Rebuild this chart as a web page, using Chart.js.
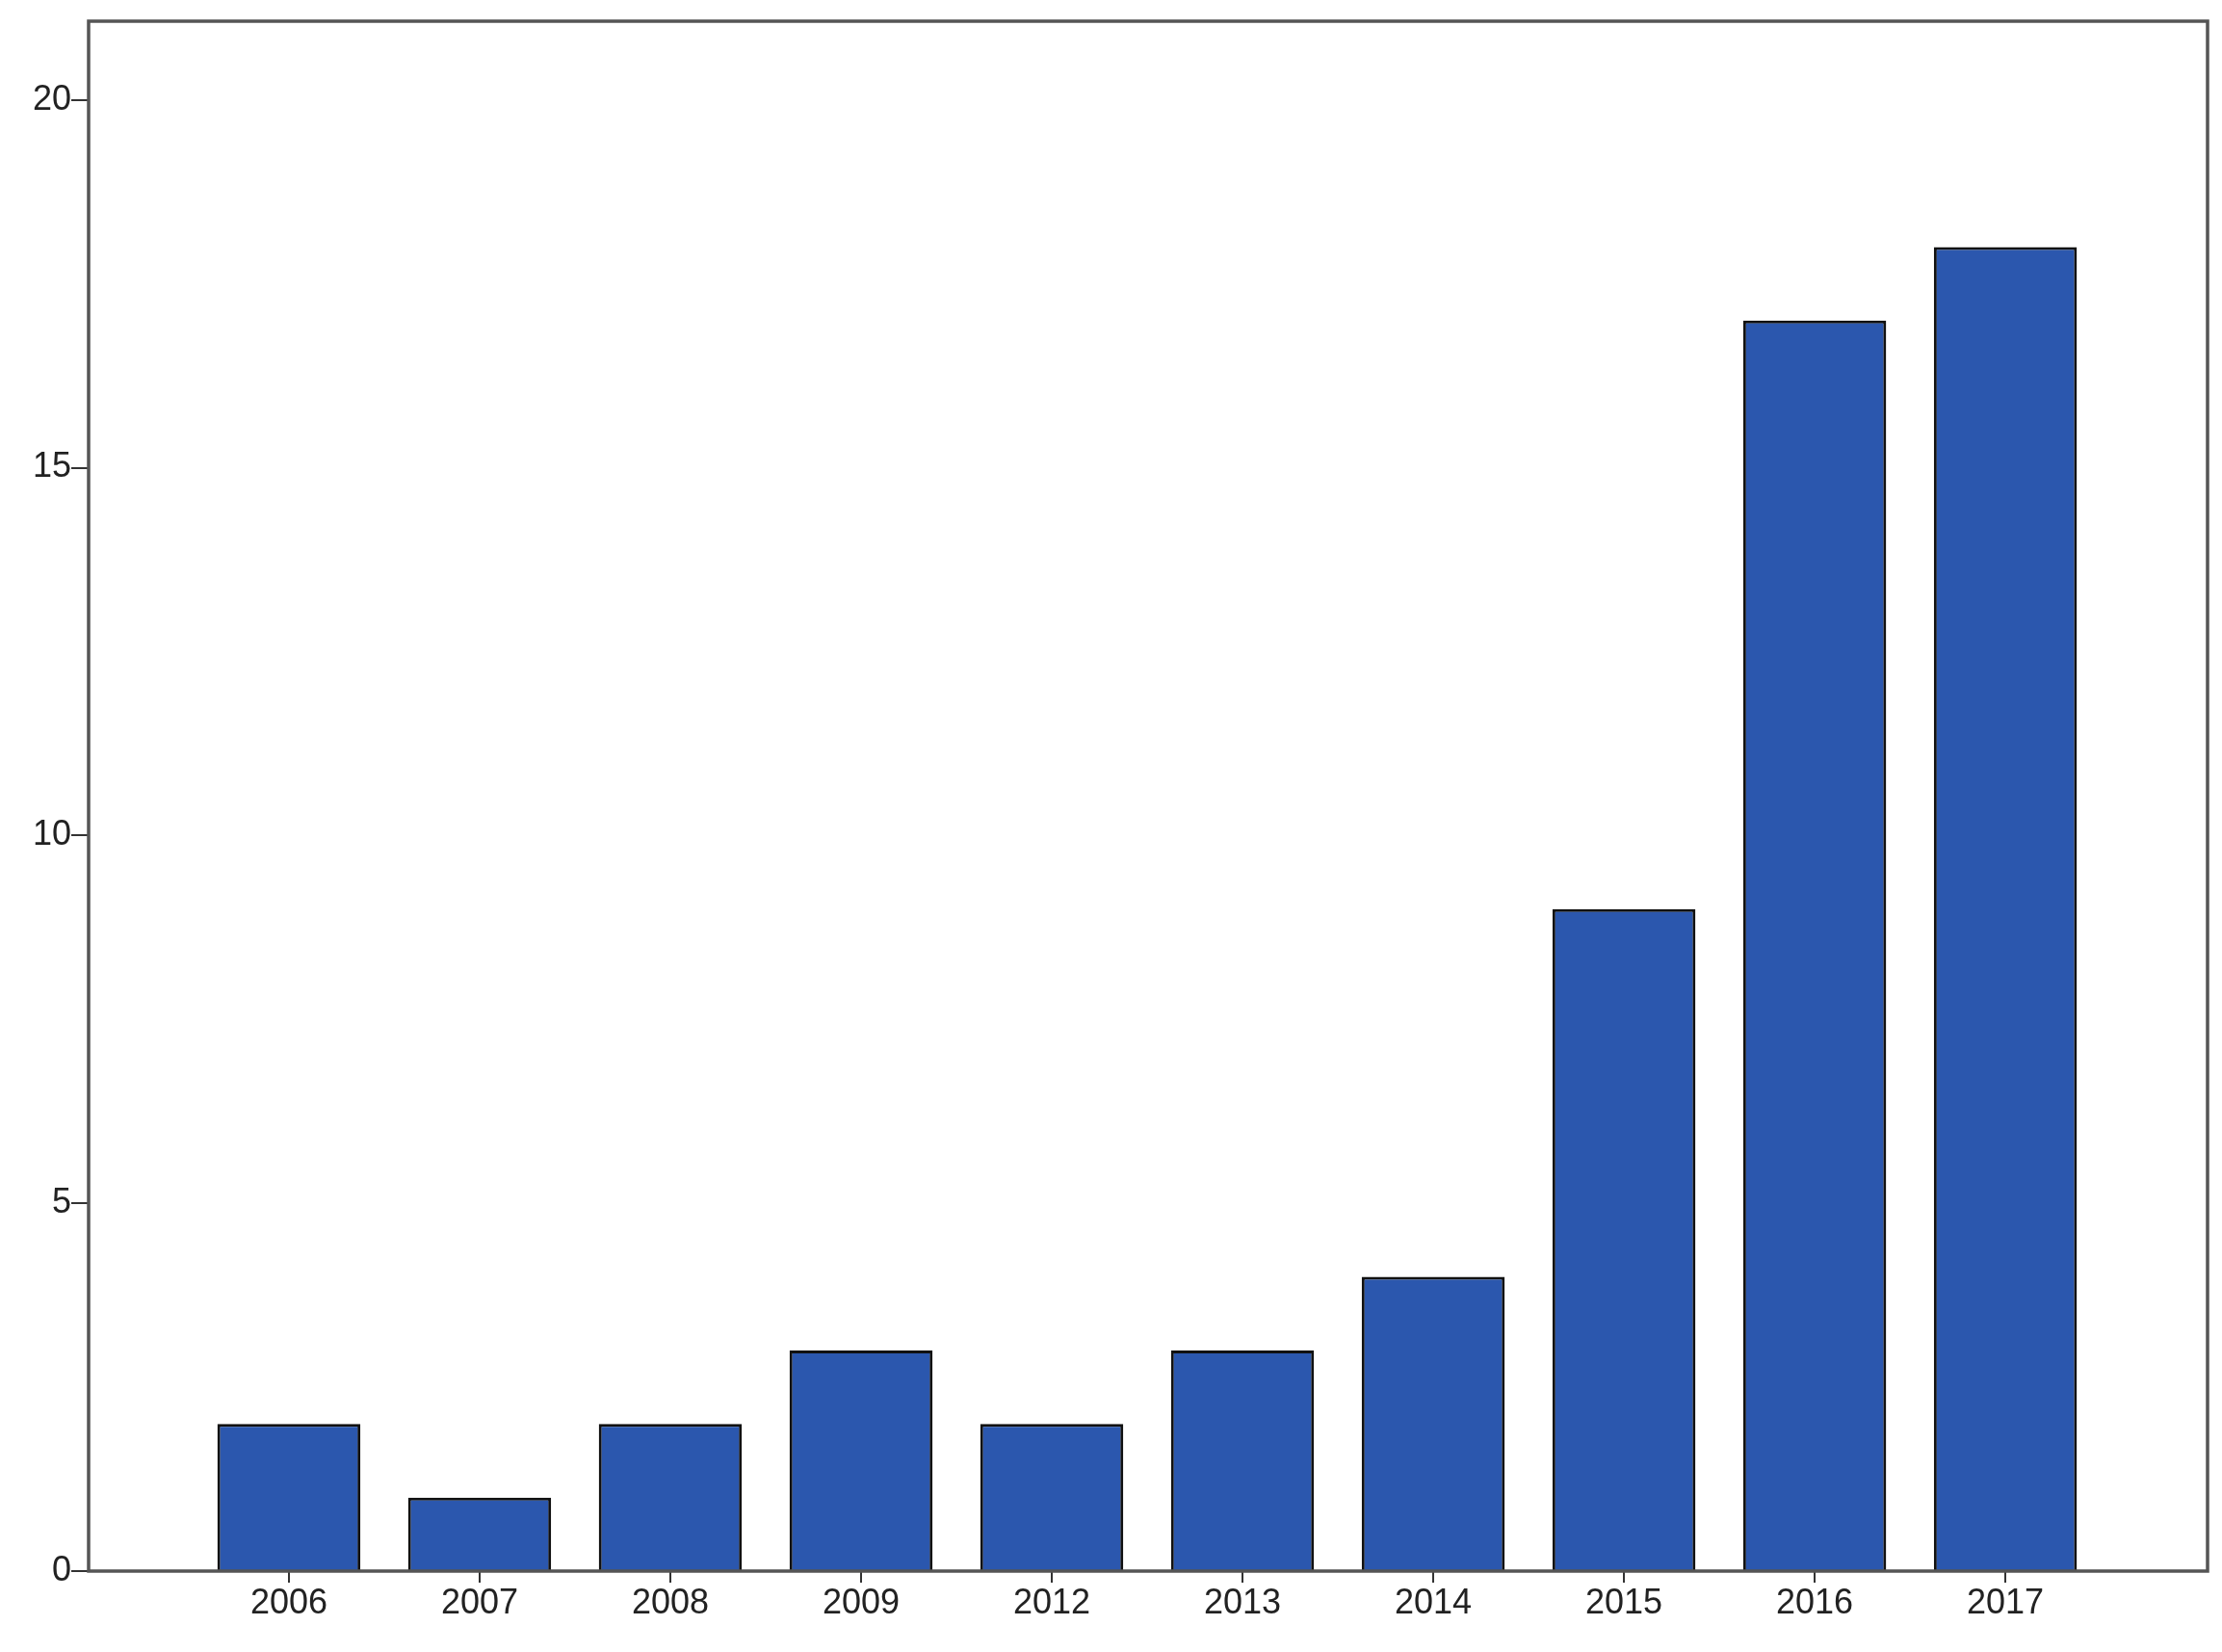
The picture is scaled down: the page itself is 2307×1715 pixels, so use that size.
<!DOCTYPE html>
<html>
<head>
<meta charset="utf-8">
<script src="https://cdn.jsdelivr.net/npm/chart.js@4"></script>
<style>
  html, body { margin: 0; padding: 0; background: #fff; }
  #wrap { width: 2307px; height: 1715px; }
</style>
</head>
<body>
<div id="wrap"><canvas id="bars"></canvas></div>
<script>
var years = ['2006', '2007', '2008', '2009', '2012', '2013', '2014', '2015', '2016', '2017'];
var counts = [2, 1, 2, 3, 2, 3, 4, 9, 17, 18];
var yTicks = [0, 5, 10, 15, 20];

// frame around the plot area
var frame = {
  id: 'frame',
  afterDraw: function(chart) {
    var a = chart.chartArea, c = chart.ctx;
    c.save();
    c.strokeStyle = '#555';
    c.lineWidth = 3.5;
    c.strokeRect(a.left, a.top, a.right - a.left, a.bottom - a.top);
    c.restore();
  }
};

var ctx = document.getElementById('bars').getContext('2d');
new Chart(ctx, {
  type: 'bar',
  data: {
    datasets: [{
      data: counts.map((v, i) => ({ x: i, y: v })),
      backgroundColor: '#2B57AE',
      borderColor: '#111',
      borderWidth: 3,
      barPercentage: 0.75,
      categoryPercentage: 1
    }]
  },
  options: {
    responsive: true,
    maintainAspectRatio: false,
    animation: false,
    layout: { padding: { top: 22, right: 15, left: 0, bottom: 0 } },
    plugins: { legend: { display: false }, tooltip: { enabled: false } },
    scales: {
      x: {
        type: 'linear',
        offset: false,
        min: -1.05,
        max: 10.06,
        afterBuildTicks: function(s) { s.ticks = years.map((y, i) => ({ value: i })); },
        afterFit: function(s) { s.height = 84; },
        grid: { offset: false, drawOnChartArea: false, tickLength: 12, color: '#333', lineWidth: 2 },
        border: { display: false },
        ticks: {
          callback: function(v) { return years[v]; },
          color: '#222',
          font: { family: 'Liberation Sans, Arial', size: 36 },
          padding: 0,
          maxRotation: 0
        }
      },
      y: {
        min: 0,
        max: 21.07,
        afterBuildTicks: function(s) { s.ticks = yTicks.map(v => ({ value: v })); },
        afterFit: function(s) { s.width = 92; },
        grid: { drawOnChartArea: false, tickLength: 18, color: '#333', lineWidth: 2 },
        border: { display: false },
        ticks: {
          color: '#222',
          font: { family: 'Liberation Sans, Arial', size: 36 },
          padding: 0
        }
      }
    }
  },
  plugins: [frame]
});
</script>
</body>
</html>
